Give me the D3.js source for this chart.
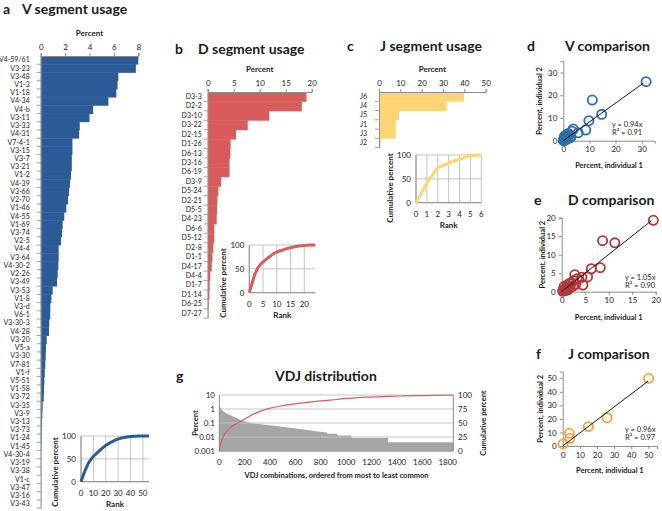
<!DOCTYPE html>
<html><head><meta charset="utf-8">
<script src="https://cdn.jsdelivr.net/npm/d3@7"></script>
<style>
body{margin:0;background:#fff;}
svg{display:block;font-family:Lato,'Open Sans',sans-serif;}
</style></head>
<body><svg id="chart" width="662" height="511"></svg>
<script>
// ---------------- DATA ----------------
const vGenes = ["V4-59/61","V3-23","V3-48","V1-3","V1-18","V4-34","V4-b","V3-11","V3-33","V4-31","V7-4-1","V3-15","V3-7","V3-21","V1-2","V4-39","V3-66","V2-70","V1-46","V4-55","V1-69","V3-74","V2-5","V4-4","V3-64","V4-30-2","V2-26","V3-49","V3-53","V1-8","V3-d","V6-1","V3-30-3","V4-28","V3-20","V5-a","V3-30","V7-81","V1-f","V5-51","V1-58","V3-72","V3-35","V3-9","V3-13","V3-73","V1-24","V1-45","V4-30-4","V3-19","V3-38","V1-c","V3-47","V3-16","V3-43"];
const vUsage = [8.0,7.8,6.36,6.3,6.2,5.55,4.3,4.0,3.2,3.15,2.6,2.6,2.55,2.55,2.48,2.4,2.32,2.24,2.1,1.93,1.8,1.75,1.66,1.47,1.47,1.45,1.39,1.34,0.98,0.87,0.79,0.78,0.7,0.68,0.49,0.43,0.41,0.38,0.33,0.3,0.27,0.25,0.16,0.14,0.11,0.09,0.07,0.03,0.02,0.02,0.02,0.01,0.01,0.01,0.01];
const vTicks = [0,2,4,6,8];

const dGenes = ["D3-3","D2-2","D3-10","D3-22","D2-15","D1-26","D6-13","D3-16","D6-19","D3-9","D5-24","D2-21","D5-5","D4-23","D6-6","D5-12","D2-8","D1-1","D4-17","D4-4","D1-7","D1-14","D6-25","D7-27"];
const dUsage = [19.0,18.1,11.85,7.7,5.45,4.4,4.35,4.2,4.2,2.55,2.05,1.85,1.8,1.72,1.27,1.25,1.08,0.9,0.77,0.5,0.38,0.33,0.15,0.05];
const dTicks = [0,5,10,15,20];

const jGenes = ["J6","J4","J5","J1","J3","J2"];
const jUsage = [39.8,31.7,9.4,7.8,7.8,0.8];
const jTicks = [0,10,20,30,40,50];

// comparisons: [individual 1, individual 2]
const vComp1 = [31.7,11.1,14.7,9.8,8.6,5.7,3.8,3.3,2.9,1.9,1.3,2.3,1.0,0.6,0.4,0.2,0.1,0.8,1.5,0.3,2.6,0.5,0.05,0.2,1.1,0.7];
const vComp2 = [26.0,17.9,11.6,8.8,4.7,3.5,5.2,4.2,1.8,3.2,1.8,2.5,1.0,0.8,0.3,0.5,0.1,0.3,0.8,1.2,1.2,2.0,0.2,0.05,2.6,1.6];
const dComp1 = [19.5,11.3,8.7,8.2,6.3,5.5,4.3,2.8,4.5,3.3,2.5,2.0,1.6,1.2,2.4,1.8,1.0,0.6,0.3,0.8,0.2,3.0,1.3,0.5];
const dComp2 = [19.3,13.2,13.8,6.5,6.2,4.0,3.9,4.6,1.8,3.5,3.0,2.4,2.2,1.8,1.5,1.2,1.0,0.7,0.4,0.3,0.1,2.0,0.5,1.4];
const jComp1 = [50.2,25.9,15.0,3.9,4.2,0.2];
const jComp2 = [50.0,20.9,14.3,9.4,5.7,1.5];
const slopes = {V:0.94, D:1.05, J:0.96};
const rsq = {V:"0.91", D:"0.90", J:"0.97"};
// trendline end points as they appear in the picture (individual 1, individual 2)
const vTrendEnd = [30.6,25.3];
const dTrendEnd = [19.1,19.2];
const jTrendEnd = [50.0,48.0];

// VDJ distribution (rank, percent)
const vdjRank = [0,8,26,53,105,184,264,395,527,659,791,850,850,930,930,1040,1040,1330,1330,1844];
const vdjPct  = [2.5,1.3,0.76,0.49,0.3,0.147,0.094,0.068,0.049,0.035,0.024,0.021,0.0168,0.0168,0.0126,0.0126,0.0084,0.0084,0.0042,0.0042];
const vdjCumRank = [0,10,26,53,79,105,145,200,290,395,500,659,800,922,1040,1186,1330,1450,1600,1844];
const vdjCumPct  = [0,12,23,34,40,45,50,57,68,76,81,86,89.5,92,94.5,96.3,97.6,98.3,99,100];
const logTicks = [0.001,0.01,0.1,1,10];
const logTickLabels = ["0.001","0.01","0.1","1","10"];
const cumTicks = [0,25,50,75,100];
const vdjXTicks = [0,200,400,600,800,1000,1200,1400,1600,1800];

// ---------------- DRAW ----------------
const svg = d3.select("#chart");
svg.append("rect").attr("width",662).attr("height",511).attr("fill","#fff");
const AX = "#8c8c8c", GRID = "#c4c4c4", TXT = "#1a1a1a";

function text(x,y,s,opt={}){
  const t = svg.append("text").attr("x",x).attr("y",y).text(s)
    .attr("font-size",opt.size||8).attr("fill",opt.fill||TXT)
    .attr("text-anchor",opt.anchor||"start").attr("dominant-baseline","central");
  if(opt.bold) t.attr("font-weight","bold");
  if(opt.rot) t.attr("transform",`rotate(-90,${x},${y})`);
  return t;
}
function title(lx,ly,letter,tx,s){
  text(lx,ly,letter,{size:14,bold:true});
  text(tx,ly,s,{size:14,bold:true});
}

function barPanel(o){
  const x = d3.scaleLinear().domain([0,o.max]).range([o.x0,o.x1]);
  const y = d3.scaleBand().domain(o.cats).range([o.y0,o.y1]).padding(0);
  svg.append("g").selectAll("rect").data(o.vals).join("rect")
    .attr("x",x(0)).attr("y",(d,i)=>y(o.cats[i]))
    .attr("width",d=>x(d)-x(0)).attr("height",y.bandwidth()+0.4)
    .attr("fill",o.color);
  const top = svg.append("g").attr("transform",`translate(0,${o.y0})`)
    .call(d3.axisTop(x).tickValues(o.ticks).tickSize(3).tickPadding(3));
  top.select(".domain").attr("stroke",AX);
  top.selectAll(".tick line").attr("stroke",AX);
  top.selectAll("text").attr("font-size",8).attr("fill",TXT).attr("font-family","Lato");
  const left = svg.append("g").attr("transform",`translate(${o.x0},0)`)
    .call(d3.axisLeft(y).tickSize(0).tickPadding(o.pad));
  left.select(".domain").attr("stroke",AX);
  left.selectAll("text").attr("font-size",o.catSize).attr("fill",TXT).attr("font-family","Lato");
  svg.append("g").selectAll("line").data(o.cats).join("line")
    .attr("x1",o.x0-4).attr("x2",o.x0)
    .attr("y1",(d,i)=>o.y0+(i+1)*y.step()).attr("y2",(d,i)=>o.y0+(i+1)*y.step())
    .attr("stroke",AX).attr("stroke-width",0.8);
  text((o.x0+o.x1)/2,o.y0-23,"Percent",{anchor:"middle",bold:true,size:8});
}

function inset(o){
  const total = d3.sum(o.vals);
  const cum = [0].concat(Array.from(d3.cumsum(o.vals))).map(v=>v/total*100);
  const x = d3.scaleLinear().domain([0,o.xmax]).range([o.x0,o.x1]);
  const y = d3.scaleLinear().domain([0,100]).range([o.yb,o.yt]);
  const g = svg.append("g");
  g.selectAll(".vg").data(o.xticks).join("line")
    .attr("x1",d=>x(d)).attr("x2",d=>x(d)).attr("y1",o.yb).attr("y2",o.yt).attr("stroke",GRID);
  g.selectAll(".hg").data([0,50,100]).join("line")
    .attr("x1",o.x0).attr("x2",o.x1).attr("y1",d=>y(d)).attr("y2",d=>y(d)).attr("stroke",GRID);
  g.append("line").attr("x1",o.x0).attr("x2",o.x0).attr("y1",o.yb).attr("y2",o.yt).attr("stroke",AX);
  g.append("line").attr("x1",o.x0).attr("x2",o.x1).attr("y1",o.yb).attr("y2",o.yb).attr("stroke",AX);
  g.append("path").datum(cum)
    .attr("d",d3.line().x((d,i)=>x(i)).y(d=>y(d)))
    .attr("fill","none").attr("stroke",o.color).attr("stroke-width",3).attr("stroke-linejoin","round");
  [0,50,100].forEach(v=>text(o.x0-5,y(v),String(v),{anchor:"end",size:8}));
  o.xticks.forEach(v=>text(x(v),o.yb+11,String(v),{anchor:"middle",size:8}));
  text((o.x0+o.x1)/2,o.yb+22.5,"Rank",{anchor:"middle",bold:true,size:8});
  text(o.ylx,o.yly,"Cumulative percent",{anchor:"middle",bold:true,size:8,rot:true});
}

function scatter(o){
  const x = d3.scaleLinear().domain([0,o.max]).range([o.x0,o.x1]);
  const y = d3.scaleLinear().domain([0,o.max]).range([o.yb,o.yt]);
  const g = svg.append("g");
  const ax = g.append("g").attr("transform",`translate(0,${o.yb})`)
    .call(d3.axisBottom(x).tickValues(o.ticks).tickSize(3).tickPadding(3));
  const ay = g.append("g").attr("transform",`translate(${o.x0},0)`)
    .call(d3.axisLeft(y).tickValues(o.ticks).tickSize(3).tickPadding(3));
  [ax,ay].forEach(a=>{a.select(".domain").attr("stroke",AX);a.selectAll(".tick line").attr("stroke",AX);
    a.selectAll("text").attr("font-size",8).attr("fill",TXT).attr("font-family","Lato");});
  const pts = o.a.map((v,i)=>[v,o.b[i]]);
  g.selectAll("circle").data(pts).join("circle")
    .attr("cx",d=>x(d[0])).attr("cy",d=>y(d[1])).attr("r",4.6)
    .attr("fill","none").attr("stroke",o.color).attr("stroke-width",1.8);
  g.append("line").attr("x1",x(0)).attr("y1",y(0)).attr("x2",x(o.end[0])).attr("y2",y(o.end[1]))
    .attr("stroke","#000").attr("stroke-width",0.9);
  text(o.tx,o.ty,`y = ${o.slope.toFixed(2)}x`,{size:7.5});
  text(o.tx,o.ty+8.5,`R² = ${o.r2}`,{size:7.5});
  text((o.x0+o.x1)/2,o.yb+o.xlab,"Percent, individual 1",{anchor:"middle",bold:true,size:7.5});
  text(o.ylx,(o.yb+o.yt)/2,"Percent, individual 2",{anchor:"middle",bold:true,size:7.5,rot:true});
}

// ----- panel a -----
title(3,8,"a",22,"V segment usage");
barPanel({cats:vGenes,vals:vUsage,max:8,ticks:vTicks,x0:40.7,x1:138.3,y0:56,y1:508.1,color:"#2a5b97",pad:11,catSize:7});
inset({vals:vUsage,xmax:55,xticks:[0,10,20,30,40,50],x0:81,x1:149,yb:481.7,yt:436,color:"#2a5b97",ylx:55,yly:472});

// ----- panel b -----
title(175,48,"b",198,"D segment usage");
barPanel({cats:dGenes,vals:dUsage,max:20,ticks:dTicks,x0:207.7,x1:311.7,y0:92,y1:318.2,color:"#d95b5b",pad:6,catSize:7});
inset({vals:dUsage,xmax:24,xticks:[0,5,10,15,20],x0:249.3,x1:315.3,yb:292.7,yt:245,color:"#d95b5b",ylx:223,yly:283});

// ----- panel c -----
title(347,45,"c",380,"J segment usage");
barPanel({cats:jGenes,vals:jUsage,max:50,ticks:jTicks,x0:379,x1:485.7,y0:92,y1:147.6,color:"#fdd572",pad:12,catSize:7});
inset({vals:jUsage,xmax:6,xticks:[0,1,2,3,4,5,6],x0:416,x1:481.3,yb:202.7,yt:155,color:"#fdd572",ylx:390,yly:188});

// ----- panels d, e, f -----
title(527,45,"d",565,"V comparison");
scatter({a:vComp1,b:vComp2,max:35,ticks:[0,10,20,30],x0:563.3,x1:654.7,yb:140.7,yt:61.2,color:"#2f6eaa",
  slope:slopes.V,r2:rsq.V,end:vTrendEnd,tx:612,ty:124,xlab:25,ylx:540});
title(534,199,"e",568,"D comparison");
scatter({a:dComp1,b:dComp2,max:20,ticks:[0,5,10,15,20],x0:561.7,x1:655.7,yb:291.7,yt:217.7,color:"#b1373c",
  slope:slopes.D,r2:rsq.D,end:dTrendEnd,tx:625,ty:277,xlab:26,ylx:543});
title(536,353,"f",568,"J comparison");
scatter({a:jComp1,b:jComp2,max:55,ticks:[0,10,20,30,40,50],x0:562.7,x1:656.9,yb:446,yt:371.5,color:"#f2a53d",
  slope:slopes.J,r2:rsq.J,end:jTrendEnd,tx:625,ty:429,xlab:24,ylx:540});

// ----- panel g -----
title(176,375,"g",275,"VDJ distribution");
{
  const x = d3.scaleLinear().domain([0,1844]).range([219.3,453.3]);
  const y = d3.scaleLog().domain([0.001,10]).range([451,395]);
  const y2 = d3.scaleLinear().domain([0,100]).range([451,395]);
  const g = svg.append("g");
  const pts = vdjRank.map((r,i)=>[r,vdjPct[i]]);
  g.append("path").datum(pts)
    .attr("d",d3.area().x(d=>x(d[0])).y0(y(0.001)).y1(d=>y(d[1])))
    .attr("fill","#a5a5a5");
  g.selectAll(".hg").data(logTicks).join("line")
    .attr("x1",219.3).attr("x2",453.3).attr("y1",d=>y(d)).attr("y2",d=>y(d))
    .attr("stroke",GRID).attr("stroke-width",1);
  g.append("line").attr("x1",219.3).attr("x2",219.3).attr("y1",395).attr("y2",451).attr("stroke",AX);
  g.append("line").attr("x1",453.3).attr("x2",453.3).attr("y1",395).attr("y2",451).attr("stroke",AX);
  g.append("line").attr("x1",219.3).attr("x2",453.3).attr("y1",451).attr("y2",451).attr("stroke",AX);
  const cpts = vdjCumRank.map((r,i)=>[r,vdjCumPct[i]]);
  g.append("path").datum(cpts)
    .attr("d",d3.line().x(d=>x(d[0])).y(d=>y2(d[1])).curve(d3.curveMonotoneX))
    .attr("fill","none").attr("stroke","#d0605e").attr("stroke-width",1.2);
  logTicks.forEach((v,i)=>text(215,y(v),logTickLabels[i],{anchor:"end",size:8}));
  cumTicks.forEach(v=>text(458,y2(v),String(v),{anchor:"start",size:8}));
  vdjXTicks.forEach(v=>text(x(v),462,String(v),{anchor:"middle",size:8}));
  text(195,423,"Percent",{anchor:"middle",bold:true,size:7.5,rot:true});
  text(483,423,"Cumulative percent",{anchor:"middle",bold:true,size:7.5,rot:true});
  text(336.5,475,"VDJ combinations, ordered from most to least common",{anchor:"middle",bold:true,size:7.5});
}
</script></body></html>
